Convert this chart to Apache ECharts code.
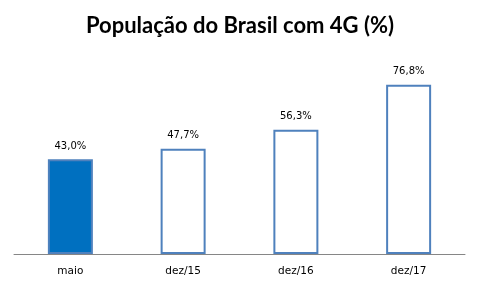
<!DOCTYPE html>
<html><head><meta charset="utf-8">
<script src="https://cdn.jsdelivr.net/npm/echarts@6/dist/echarts.min.js"></script>
<style>html,body{margin:0;padding:0;background:#fff}#c{width:480px;height:288px}</style>
</head><body><div id="c"></div>
<script>
const title = 'População do Brasil com 4G (%)';
const categories = ['maio', 'dez/15', 'dez/16', 'dez/17'];
const values = [43.0, 47.7, 56.3, 76.8];
const filled = [true, false, false, false];

const chart = echarts.init(document.getElementById('c'), null, {renderer: 'canvas'});
chart.setOption({
  animation: false,
  backgroundColor: '#fff',
  title: {
    text: title, left: 'center', top: 10,
    textStyle: {fontFamily: 'Lato', fontWeight: 'bold', fontSize: 22, color: '#000'}
  },
  grid: {left: 14, right: 15, top: 33.5, bottom: 34},
  xAxis: {
    type: 'category', data: categories,
    axisLine: {lineStyle: {color: '#868686', width: 1}},
    axisTick: {show: false},
    axisLabel: {margin: 12, fontFamily: 'DejaVu Sans', fontSize: 10.5, color: '#000'}
  },
  yAxis: {type: 'value', min: 0, max: 100, show: false, splitLine: {show: false}},
  series: [{
    type: 'bar', barWidth: 45,
    data: values.map((v, i) => ({
      value: v,
      itemStyle: filled[i]
        ? {color: '#0070C0', borderColor: '#4F81BD', borderWidth: 2}
        : {color: '#fff', borderColor: '#4F81BD', borderWidth: 2}
    })),
    label: {
      show: true, position: 'top', distance: 8,
      fontFamily: 'DejaVu Sans', fontSize: 10, color: '#000',
      formatter: p => p.value.toFixed(1).replace('.', ',') + '%'
    }
  }]
});
</script></body></html>
